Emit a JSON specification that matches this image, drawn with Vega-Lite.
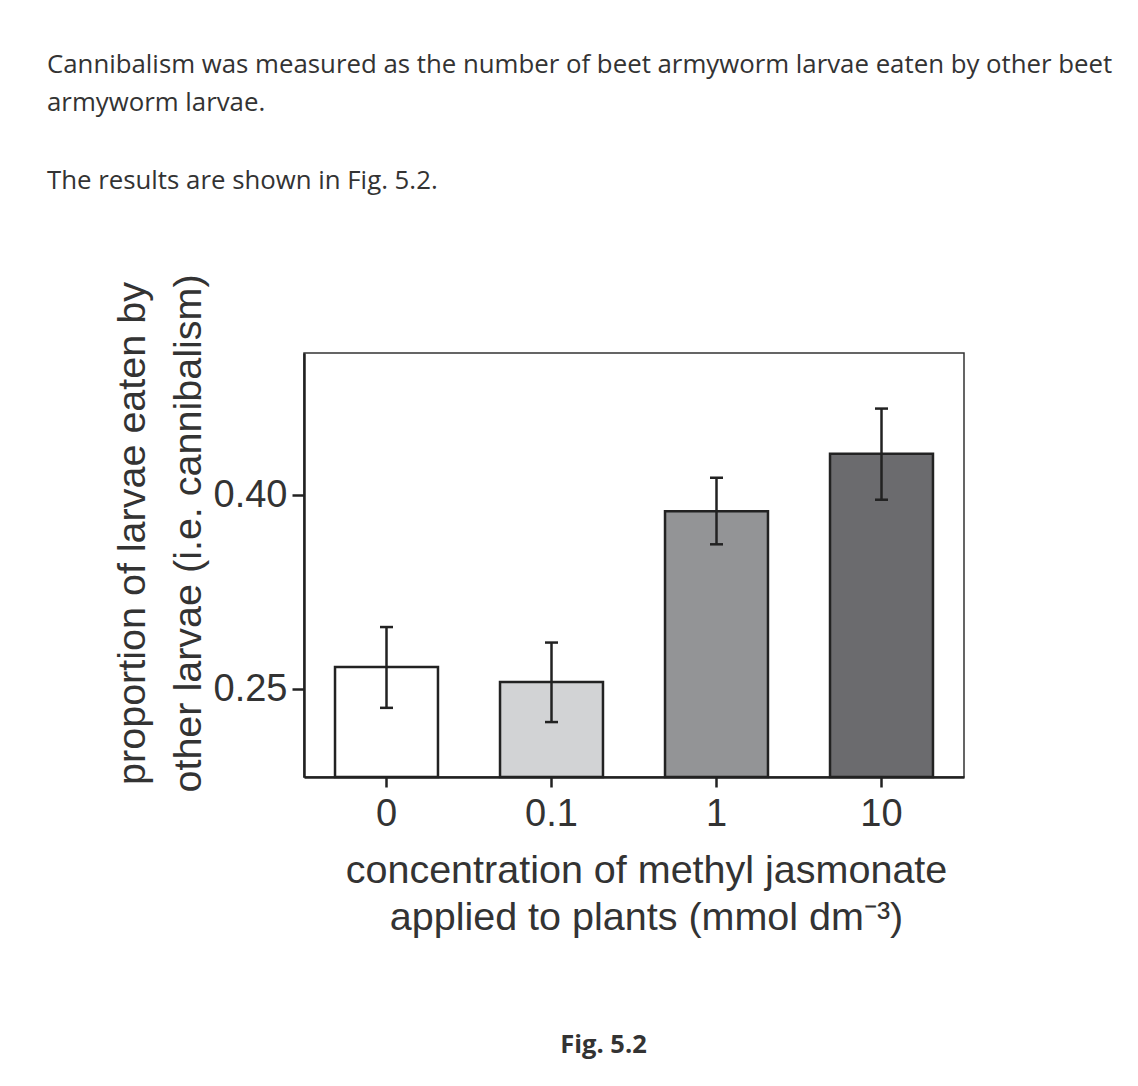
{
  "$schema": "https://vega.github.io/schema/vega-lite/v6.json",
  "background": "white",
  "padding": {"left": 46, "top": 50, "right": 10, "bottom": 10},
  "title": {
    "text": "Fig. 5.2",
    "orient": "bottom",
    "anchor": "start",
    "frame": "bounds",
    "dx": 514,
    "offset": 96,
    "font": "Open Sans",
    "fontSize": 25.5,
    "fontWeight": "bold",
    "color": "#333333"
  },
  "data": {
    "values": [
      {"conc": "0", "mean": 0.267, "lo": 0.2355, "hi": 0.298},
      {"conc": "0.1", "mean": 0.2555, "lo": 0.2245, "hi": 0.286},
      {"conc": "1", "mean": 0.3875, "lo": 0.362, "hi": 0.4135},
      {"conc": "10", "mean": 0.432, "lo": 0.3965, "hi": 0.467}
    ]
  },
  "vconcat": [
    {
      "width": 660,
      "height": 424,
      "title": {
        "text": [
          "Cannibalism was measured as the number of beet armyworm larvae eaten by other beet",
          "armyworm larvae."
        ],
        "subtitle": "The results are shown in Fig. 5.2.",
        "anchor": "start",
        "frame": "group",
        "dx": -257,
        "font": "Open Sans",
        "fontSize": 25.8,
        "fontWeight": "normal",
        "color": "#333333",
        "lineHeight": 38.7,
        "subtitleFont": "Open Sans",
        "subtitleFontSize": 25.8,
        "subtitleColor": "#333333",
        "subtitleLineHeight": 38.7,
        "subtitlePadding": 52,
        "offset": 79
      },
      "encoding": {
        "x": {
          "field": "conc",
          "type": "nominal",
          "sort": null,
          "scale": {"paddingInner": 0.376, "paddingOuter": 0.188},
          "axis": {
            "title": ["concentration of methyl jasmonate", "applied to plants (mmol dm⁻³)"],
            "titleFont": "Liberation Sans",
            "titleFontSize": 39.5,
            "titleFontWeight": "normal",
            "titleColor": "#333333",
            "titleLineHeight": 47,
            "titleBaseline": "alphabetic",
            "titleX": 342,
            "titleY": 105,
            "labelAngle": 0,
            "labelFont": "Liberation Sans",
            "labelFontSize": 38,
            "labelColor": "#333333",
            "labelPadding": 8,
            "tickSize": 10,
            "tickWidth": 2.5,
            "tickColor": "#222222",
            "domainColor": "#222222",
            "domainWidth": 2.5,
            "grid": false
          }
        }
      },
      "layer": [
        {
          "mark": {"type": "bar", "stroke": "#222222", "strokeWidth": 2.5},
          "encoding": {
            "y": {
              "field": "mean",
              "type": "quantitative",
              "scale": {"domain": [0.182, 0.51], "nice": false, "zero": false},
              "axis": {
                "values": [0.25, 0.4],
                "format": ".2f",
                "title": ["proportion of larvae eaten by", "other larvae (i.e. cannibalism)"],
                "titleFont": "Liberation Sans",
                "titleFontSize": 39.5,
                "titleFontWeight": "normal",
                "titleColor": "#333333",
                "titleLineHeight": 56,
                "titleBaseline": "alphabetic",
                "titleAngle": -90,
                "titleAlign": "center",
                "titleX": -160,
                "titleY": 180,
                "labelFont": "Liberation Sans",
                "labelFontSize": 38,
                "labelColor": "#333333",
                "labelPadding": 5,
                "tickSize": 12,
                "tickWidth": 2.5,
                "tickColor": "#222222",
                "domainColor": "#222222",
                "domainWidth": 2.5,
                "grid": false
              }
            },
            "y2": {"datum": 0.182},
            "fill": {
              "field": "conc",
              "type": "nominal",
              "sort": null,
              "scale": {"range": ["#ffffff", "#d2d3d5", "#939496", "#6b6b6e"]},
              "legend": null
            }
          }
        },
        {
          "mark": {"type": "rule", "stroke": "#222222", "strokeWidth": 2.5},
          "encoding": {
            "y": {"field": "lo", "type": "quantitative"},
            "y2": {"field": "hi"}
          }
        },
        {
          "mark": {"type": "tick", "color": "#222222", "thickness": 2.5, "size": 13, "opacity": 1},
          "encoding": {
            "y": {"field": "lo", "type": "quantitative"}
          }
        },
        {
          "mark": {"type": "tick", "color": "#222222", "thickness": 2.5, "size": 13, "opacity": 1},
          "encoding": {
            "y": {"field": "hi", "type": "quantitative"}
          }
        }
      ]
    }
  ],
  "config": {
    "view": {"stroke": "#333333", "strokeWidth": 1.5}
  }
}
